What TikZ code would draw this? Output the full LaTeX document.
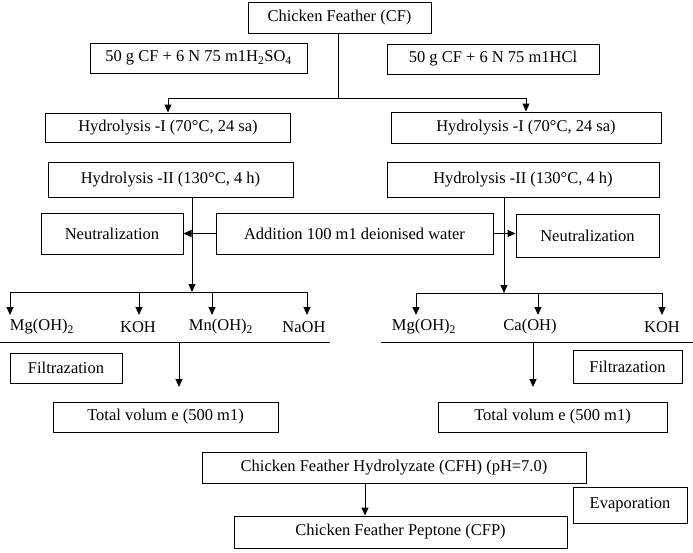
\documentclass[tikz,border=0pt]{standalone}
\usepackage{fontspec}
\setmainfont{Liberation Serif}
\usepackage{tikz}
\usetikzlibrary{arrows.meta,positioning,calc}

\begin{document}
\begin{tikzpicture}[x=1pt,y=-1pt,
    box/.style={draw, line width=1pt, inner sep=0pt, font=\fontsize{16.5}{19}\selectfont},
    lbl/.style={inner sep=1pt, font=\fontsize{16.5}{19}\selectfont},
    arr/.style={-{Triangle[length=8pt,width=7pt]}, line width=1pt},
    ln/.style={line width=1pt}]
    \useasboundingbox (0,0) rectangle (693,552);
    % top of the chart
    \node[box, minimum width=183pt, minimum height=31pt] (cf) at (339.5,17.5) {Chicken Feather (CF)};
    \node[box, minimum width=217pt, minimum height=30pt] (acidA) at (198.5,58) {50 g CF + 6 N 75 m1H\textsubscript{2}SO\textsubscript{4}};
    \node[box, minimum width=212pt, minimum height=30pt] (acidB) at (493,59) {50 g CF + 6 N 75 m1HCl};
    \node[box, minimum width=245pt, minimum height=29pt] (hydIa) at (168,127.5) {Hydrolysis -I (70°C, 24 sa)};
    \node[box, minimum width=270pt, minimum height=31pt] (hydIb) at (526,127.5) {Hydrolysis -I (70°C, 24 sa)};
    \node[box, minimum width=245pt, minimum height=35pt] (hydIIa) at (170.5,179.5) {Hydrolysis -II (130°C, 4 h)};
    \node[box, minimum width=272pt, minimum height=35pt] (hydIIb) at (523,179.5) {Hydrolysis -II (130°C, 4 h)};
    \node[box, minimum width=142pt, minimum height=41pt] (neutA) at (112,233.5) {Neutralization};
    \node[box, minimum width=277pt, minimum height=41pt] (water) at (354.5,233.5) {Addition 100 m1 deionised water};
    \node[box, minimum width=143pt, minimum height=43pt] (neutB) at (587.5,235.5) {Neutralization};

    \coordinate (sp) at (338,98);
    \draw[ln] (cf.south -| sp) -- (sp);
    \draw[arr] (sp) -| (hydIa.north);
    \draw[arr] (sp) -| (hydIb.north);
    \draw[arr] (water.west) -- (neutA.east);
    \draw[arr] (water.east) -- (water.east -| neutB.west);

    % left branch
    \coordinate (jA) at (192,292);
    \draw[arr] (hydIIa.south -| jA) -- (jA);
    \foreach \n/\x in {a1/10,a2/139,a3/212,a4/307} {
      \coordinate (\n) at (\x,315);
    }
    \draw[ln] (a1 |- jA) -- (a4 |- jA);
    \foreach \n in {a1,a2,a3,a4} {
      \draw[arr] (\n |- jA) -- (\n);
    }
    \node[lbl] (mgA) at (42,327) {Mg(OH)\textsubscript{2}};
    \node[lbl] (kohA) at (138,327) {KOH};
    \node[lbl] (mnA) at (221,327) {Mn(OH)\textsubscript{2}};
    \node[lbl] (naA) at (304,327) {NaOH};
    \coordinate (ulA1) at (0,342);
    \coordinate (ulA2) at (330,342);
    \draw[ln] (ulA1) -- (ulA2);
    \coordinate (dA) at (179,387);
    \draw[arr] (dA |- ulA1) -- (dA);
    \node[box, minimum width=112pt, minimum height=30pt] (filtA) at (66,368) {Filtrazation};
    \node[box, minimum width=225pt, minimum height=30pt] (totA) at (165.5,417) {Total volum e (500 m1)};

    % right branch
    \coordinate (jB) at (504,293);
    \draw[arr] (hydIIb.south -| jB) -- (jB);
    \foreach \n/\x in {b1/416,b2/538,b3/662} {
      \coordinate (\n) at (\x,315);
    }
    \draw[ln] (b1 |- jB) -- (b3 |- jB);
    \foreach \n in {b1,b2,b3} {
      \draw[arr] (\n |- jB) -- (\n);
    }
    \node[lbl] (mgB) at (424,327) {Mg(OH)\textsubscript{2}};
    \node[lbl] (caB) at (530,327) {Ca(OH)};
    \node[lbl] (kohB) at (662,327) {KOH};
    \coordinate (ulB1) at (381,342);
    \coordinate (ulB2) at (693,342);
    \draw[ln] (ulB1) -- (ulB2);
    \coordinate (dB) at (533,387);
    \draw[arr] (dB |- ulB1) -- (dB);
    \node[box, minimum width=109pt, minimum height=33pt] (filtB) at (627.5,366.5) {Filtrazation};
    \node[box, minimum width=229pt, minimum height=30pt] (totB) at (552.5,417) {Total volum e (500 m1)};

    % bottom
    \node[box, minimum width=384pt, minimum height=31pt] (cfh) at (394,467.5) {Chicken Feather Hydrolyzate (CFH) (pH=7.0)};
    \node[box, minimum width=114pt, minimum height=36pt] (evap) at (630,505) {Evaporation};
    \node[box, minimum width=333pt, minimum height=32pt] (cfp) at (400.5,532) {Chicken Feather Peptone (CFP)};
    \coordinate (kx) at (365,0);
    \draw[arr] (cfh.south -| kx) -- (cfp.north -| kx);
\end{tikzpicture}
\end{document}
